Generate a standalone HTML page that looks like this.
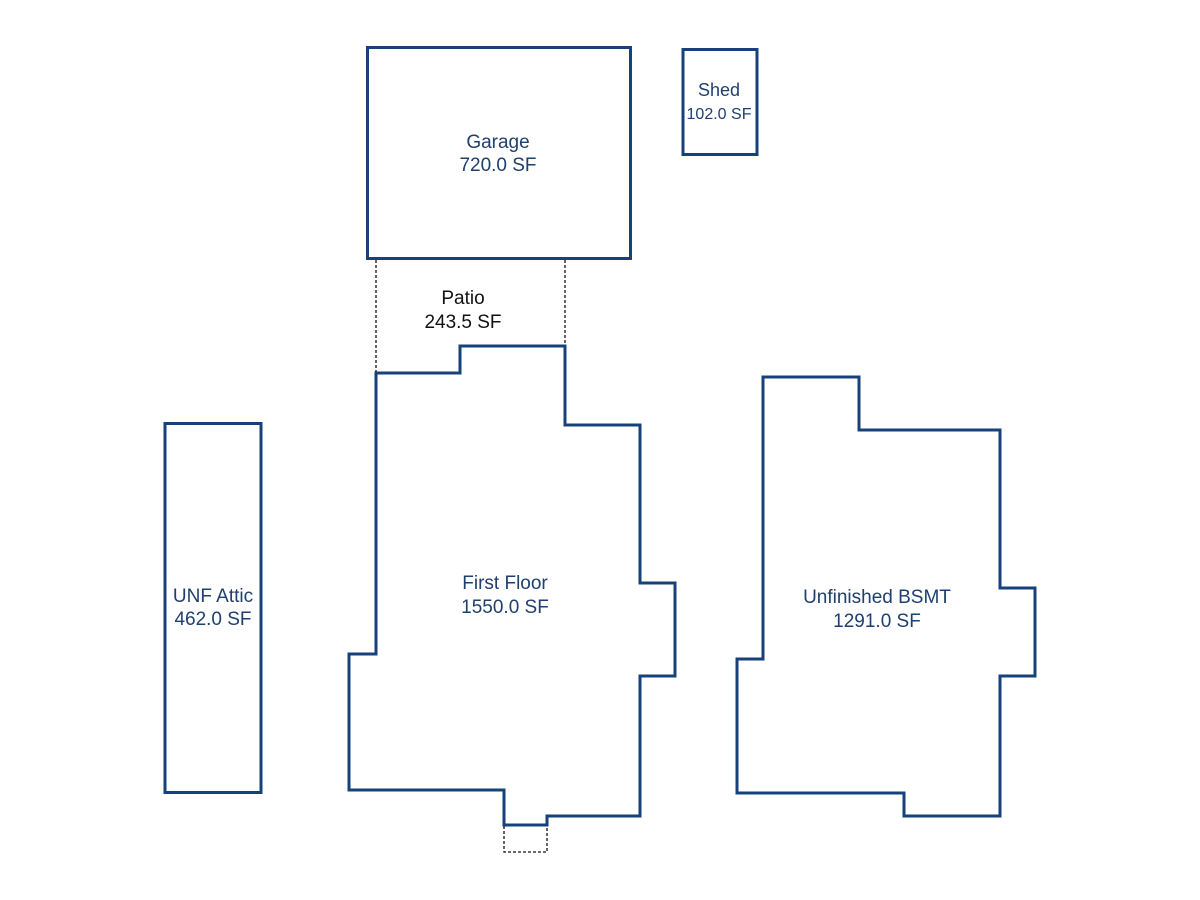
<!DOCTYPE html>
<html><head><meta charset="utf-8"><style>
html,body{margin:0;padding:0;background:#fff;}
svg{display:block;}
text{font-family:"Liberation Sans",Arial,sans-serif;font-size:19px;text-anchor:middle;fill:#1f3f6e;}
</style></head><body>
<svg width="1200" height="900" viewBox="0 0 1200 900" xmlns="http://www.w3.org/2000/svg">
<g fill="none" stroke="#16417a" stroke-width="3">
<rect x="367.5" y="47.5" width="263" height="211"/>
<rect x="683" y="49.5" width="74" height="105"/>
<rect x="165" y="423.5" width="96" height="369"/>
<polygon points="376,373 460,373 460,346 565,346 565,425 640,425 640,583 675,583 675,676 640,676 640,816 547,816 547,825 504,825 504,790 349,790 349,654 376,654"/>
<polygon points="763,377 859,377 859,430 1000,430 1000,588 1035,588 1035,676 1000,676 1000,816 904,816 904,793 737,793 737,659 763,659"/>
</g>
<g fill="none" stroke="#111" stroke-width="1.3" stroke-dasharray="3,2">
<line x1="376" y1="260" x2="376" y2="372"/>
<line x1="565" y1="260" x2="565" y2="345"/>
<polyline points="504,826 504,852 547,852 547,826"/>
</g>
<text x="498" y="148">Garage</text>
<text x="498" y="171">720.0 SF</text>
<text x="719" y="96" style="font-size:18px">Shed</text>
<text x="719" y="119" style="font-size:16px">102.0 SF</text>
<text x="463" y="304" style="fill:#111">Patio</text>
<text x="463" y="328" style="fill:#111">243.5 SF</text>
<text x="213" y="602">UNF Attic</text>
<text x="213" y="625">462.0 SF</text>
<text x="505" y="589">First Floor</text>
<text x="505" y="613">1550.0 SF</text>
<text x="877" y="603">Unfinished BSMT</text>
<text x="877" y="627">1291.0 SF</text>
</svg>
</body></html>
